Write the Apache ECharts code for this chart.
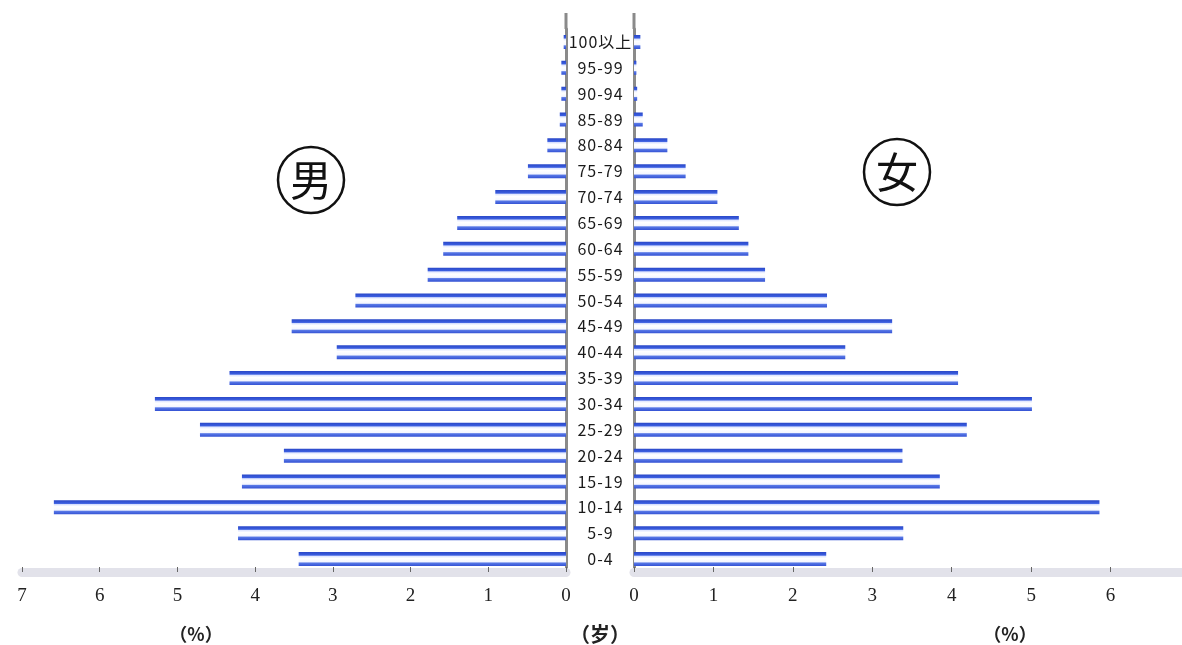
<!DOCTYPE html>
<html>
<head>
<meta charset="utf-8">
<script src="https://cdn.jsdelivr.net/npm/echarts@6/dist/echarts.min.js"></script>
<style>
  html, body { margin: 0; padding: 0; background: #fff; }
  #chart { width: 1182px; height: 645px; }
</style>
</head>
<body>
<div id="chart"></div>
<script>
// age groups, bottom to top
const ages = ['0-4', '5-9', '10-14', '15-19', '20-24', '25-29', '30-34', '35-39', '40-44', '45-49',
  '50-54', '55-59', '60-64', '65-69', '70-74', '75-79', '80-84', '85-89', '90-94', '95-99', '100以上']
// share of population, %
const male = [3.44, 4.22, 6.59, 4.17, 3.63, 4.71, 5.29, 4.33, 2.95, 3.53,
  2.71, 1.78, 1.58, 1.40, 0.91, 0.49, 0.24, 0.08, 0.06, 0.06, 0.03]
const female = [2.42, 3.39, 5.86, 3.85, 3.38, 4.19, 5.01, 4.08, 2.66, 3.25,
  2.43, 1.65, 1.44, 1.32, 1.05, 0.65, 0.42, 0.11, 0.04, 0.03, 0.08]

const chart = echarts.init(document.getElementById('chart'))

const barColor = new echarts.graphic.LinearGradient(0, 0, 0, 1, [
  { offset: 0, color: '#2a48c8' },
  { offset: 0.22, color: '#3b5ee0' },
  { offset: 0.3, color: '#dfe6ff' },
  { offset: 0.45, color: '#ffffff' },
  { offset: 0.7, color: '#f4f6ff' },
  { offset: 0.78, color: '#5878e6' },
  { offset: 1, color: '#3452d4' },
])

const serif = '"Liberation Serif", "DejaVu Serif", serif'
const xAxisBase = {
  type: 'value', min: 0, max: 7, interval: 1,
  axisLine: { show: true, lineStyle: { color: '#e2e2ea', width: 9 } },
  axisTick: { show: true, inside: true, length: 5, lineStyle: { color: '#666' } },
  axisLabel: { color: '#222', fontSize: 19, fontFamily: serif, margin: 15 },
  splitLine: { show: false },
}
const yAxisBase = {
  type: 'category', data: ages,
  axisTick: { show: false },
  axisLine: { show: true, lineStyle: { color: '#8a8a8a', width: 3 } },
}

const gridTop = 29
const gridH = 543

chart.setOption({
  animation: false,
  backgroundColor: '#fff',
  grid: [
    { left: 22, width: 544, top: gridTop, height: gridH, outerBoundsMode: 'none' },
    { left: 634, width: 556, top: gridTop, height: gridH, outerBoundsMode: 'none' },
  ],
  xAxis: [
    Object.assign({}, xAxisBase, { gridIndex: 0, inverse: true }),
    Object.assign({}, xAxisBase, { gridIndex: 1,
      axisLabel: Object.assign({}, xAxisBase.axisLabel, { showMaxLabel: false }) }),
  ],
  yAxis: [
    Object.assign({}, yAxisBase, { gridIndex: 0, position: 'right', axisLabel: { show: false } }),
    Object.assign({}, yAxisBase, {
      gridIndex: 1, position: 'left',
      axisLabel: {
        align: 'center', margin: 34, color: '#1a1a1a', fontSize: 16,
        fontFamily: '"Noto Sans CJK JP", "Noto Sans", sans-serif',
        formatter: v => v.split('').join('\u200a'),
      },
    }),
  ],
  series: [
    { name: '男', type: 'bar', xAxisIndex: 0, yAxisIndex: 0, data: male, barWidth: 14,
      itemStyle: { color: barColor } },
    { name: '女', type: 'bar', xAxisIndex: 1, yAxisIndex: 1, data: female, barWidth: 14,
      itemStyle: { color: barColor } },
  ],
})

// extend the two centre axis strips above the plot, as in the printed figure
const xm = chart.convertToPixel({ xAxisIndex: 0 }, 0)
const xf = chart.convertToPixel({ xAxisIndex: 1 }, 0)
const strip = x => ({ type: 'line', shape: { x1: x, y1: 13, x2: x, y2: gridTop },
  style: { stroke: '#8a8a8a', lineWidth: 3 } })

chart.setOption({
  graphic: [
    strip(xm), strip(xf),
    { type: 'circle', shape: { cx: 311, cy: 180, r: 33 }, style: { fill: 'none', stroke: '#111', lineWidth: 2.5 } },
    { type: 'text', x: 311, y: 180, style: { text: '男', align: 'center', verticalAlign: 'middle',
      font: '42px "Noto Sans CJK JP", sans-serif', fill: '#111' } },
    { type: 'circle', shape: { cx: 897, cy: 172, r: 33 }, style: { fill: 'none', stroke: '#111', lineWidth: 2.5 } },
    { type: 'text', x: 897, y: 172, style: { text: '女', align: 'center', verticalAlign: 'middle',
      font: '42px "Noto Sans CJK JP", sans-serif', fill: '#111' } },
    { type: 'text', x: 196, y: 634, style: { text: '（%）', align: 'center', verticalAlign: 'middle',
      font: 'bold 18px "Noto Sans CJK SC", sans-serif', fill: '#222' } },
    { type: 'text', x: 600, y: 634, style: { text: '（岁）', align: 'center', verticalAlign: 'middle',
      font: 'bold 20px "Noto Sans CJK SC", sans-serif', fill: '#222' } },
    { type: 'text', x: 1010, y: 634, style: { text: '（%）', align: 'center', verticalAlign: 'middle',
      font: 'bold 18px "Noto Sans CJK SC", sans-serif', fill: '#222' } },
  ],
})
</script>
</body>
</html>
